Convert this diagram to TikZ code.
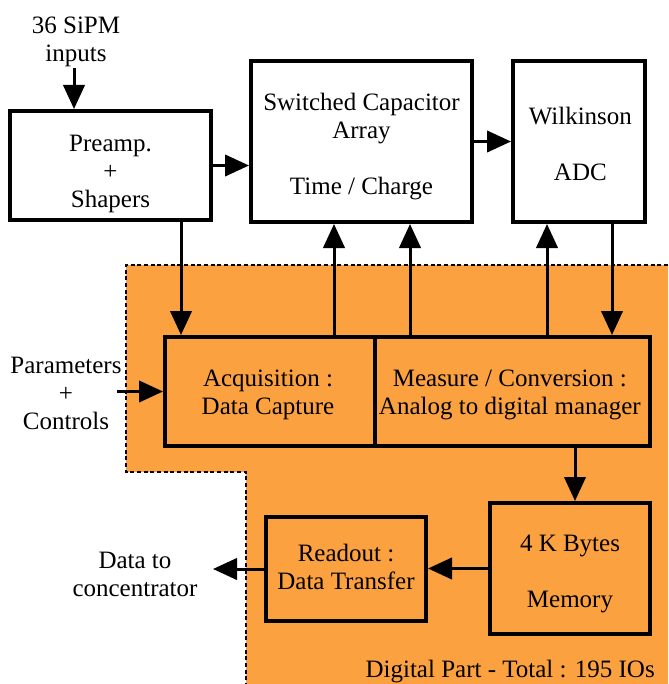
\documentclass[tikz,border=0pt]{standalone}
\usepackage{fontspec}
\setmainfont{Liberation Serif}
\usetikzlibrary{arrows.meta}
\definecolor{digorange}{RGB}{252,161,64}
\begin{document}
\begin{tikzpicture}[x=0.75pt,y=-0.75pt,
  every node/.style={font=\fontsize{18.75}{21}\selectfont, align=center},
  box/.style={draw=black, line width=3pt, inner sep=0pt},
  conn/.style={line width=2.25pt, -{Triangle[length=18pt,width=16pt]}},
  lbl/.style={inner sep=0pt},
  zone/.style={line width=1pt, dash pattern=on 3pt off 2pt}]
\fill[white] (0,0) rectangle (668,684);
\useasboundingbox (0,0) rectangle (668,684);
% digital zone
\fill[digorange] (126,265) -- (668,265) -- (668,684) -- (246,684) -- (246,472) -- (126,472) -- cycle;
\draw[zone] (668,265) -- (126,265) -- (126,472) -- (246,472) -- (246,684);
% blocks
\node[box, fill=white, minimum width=150.75pt, minimum height=81.75pt] (pre) at (110.5,165.5) {};
\node[box, fill=white, minimum width=165.75pt, minimum height=120.75pt] (sca) at (361.5,141.5) {};
\node[box, fill=white, minimum width=99pt, minimum height=120.75pt] (wilk) at (579,141.5) {};
\node[box, fill=digorange, minimum width=157.5pt, minimum height=81.75pt] (acq) at (270,391.5) {};
\node[box, fill=digorange, minimum width=206.25pt, minimum height=81.75pt] (meas) at (512.5,391.5) {};
\node[box, fill=digorange, minimum width=120pt, minimum height=98.25pt] (mem) at (570,568.5) {};
\node[box, fill=digorange, minimum width=120pt, minimum height=78pt] (read) at (346,569) {};
% block texts
\node[lbl] (pre-t) at ([yshift=-6pt]pre.center) {Preamp.\\+\\Shapers};
\node[lbl] (sca-t) at ([yshift=-4.1pt]sca.center) {Switched Capacitor\\Array\\[21pt]Time / Charge};
\node[lbl] (wilk-t) at ([yshift=-1.9pt,xshift=1pt]wilk.center) {Wilkinson\\[21pt]ADC};
\node[lbl] (acq-t) at ([yshift=-2.25pt,xshift=-1.5pt]acq.center) {Acquisition :\\Data Capture};
\node[lbl] (meas-t) at ([yshift=-2.25pt,xshift=-2pt]meas.center) {Measure / Conversion :\\Analog to digital manager};
\node[lbl] (mem-t) at ([yshift=-4.1pt]mem.center) {4 K Bytes\\[21pt]Memory};
\node[lbl] (read-t) at ([yshift=1.9pt]read.center) {Readout :\\Data Transfer};
% labels
\node[lbl] (sipm) at (76,41.5) {36 SiPM\\inputs};
\node[lbl] (params) at (66,393) {Parameters\\+\\Controls};
\node[lbl] (dtc) at (135,574.5) {Data to\\concentrator};
\node[lbl, anchor=east] (dig) at (655,672) {Digital Part - Total : 195 IOs};
% coordinates
\coordinate (sipmin) at (74,68);
\coordinate (pin) at (117,391.5);
\coordinate (dout) at (213,569);
\coordinate (xa) at (181,0);
\coordinate (xb) at (334,0);
\coordinate (xc) at (410,0);
\coordinate (xd) at (547,0);
\coordinate (xe) at (612,0);
\coordinate (xf) at (575,0);
% connectors
\draw[conn] (sipmin) -- (sipmin |- pre.north);
\draw[conn] (pre.east) -- (pre.east -| sca.west);
\draw[conn] (sca.east) -- (sca.east -| wilk.west);
\draw[conn] (xa |- pre.south) -- (xa |- acq.north);
\draw[conn] (xb |- acq.north) -- (xb |- sca.south);
\draw[conn] (xc |- meas.north) -- (xc |- sca.south);
\draw[conn] (xd |- meas.north) -- (xd |- wilk.south);
\draw[conn] (xe |- wilk.south) -- (xe |- meas.north);
\draw[conn] (xf |- meas.south) -- (xf |- mem.north);
\draw[conn] (pin) -- (acq.west);
\draw[conn] (mem.west) -- (mem.west -| read.east);
\draw[conn] (read.west) -- (dout);
\end{tikzpicture}
\end{document}
